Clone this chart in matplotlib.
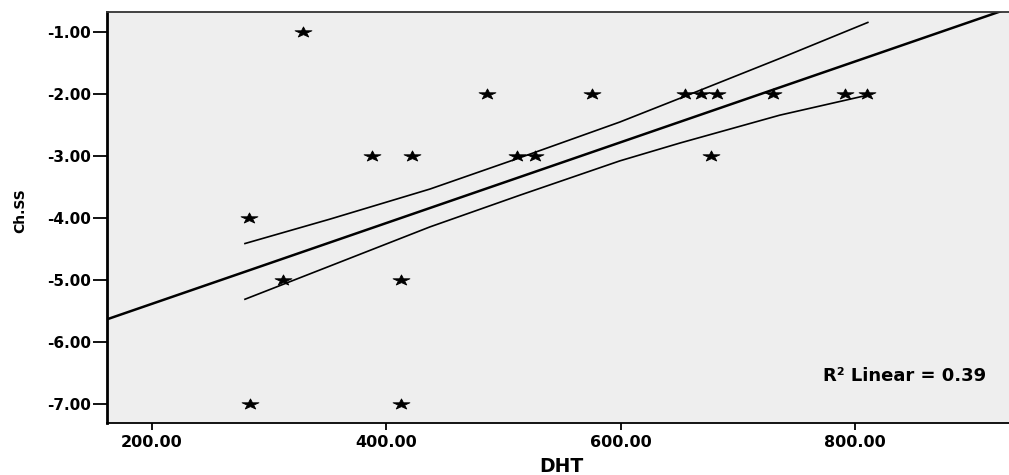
import numpy as np
import matplotlib
matplotlib.use("Agg")
import matplotlib.pyplot as plt
from matplotlib.markers import MarkerStyle
from matplotlib.transforms import Affine2D

plt.rcParams["font.family"] = ["DejaVu Sans"]
plt.rcParams["font.weight"] = "bold"

# scatter points
dht = [329, 283, 284, 312, 388, 422, 412.5, 412.5, 486, 511.5, 527, 576,
       655, 669, 682, 677, 730, 791.5, 810]
chss = [-1, -4, -7, -5, -3, -3, -5, -7, -2, -3, -3, -2,
        -2, -2, -2, -3, -2, -2, -2]

# fit line
fit_intercept = -6.681
fit_slope = 0.006507
r2_label = "R\u00b2 Linear = 0.39"

# 95% mean confidence band, read at a few x positions
ci_x = [279.4, 351.9, 437.3, 514.1, 599.4, 650.6, 736.0, 811.1]
ci_upper = [-4.408, -4.015, -3.530, -3.025, -2.450, -2.068, -1.425, -0.845]
ci_lower = [-5.306, -4.771, -4.140, -3.629, -3.076, -2.789, -2.339, -2.016]

x_ticks = [200, 400, 600, 800]
y_ticks = [-1, -2, -3, -4, -5, -6, -7]

xmin, xmax = 161.6, 931.6
ymin, ymax = -7.30, -0.677

fig = plt.figure(figsize=(10.09, 4.75), dpi=100)
ax = fig.add_axes([0.106, 0.1095, 0.894, 0.8652])
ax.set_facecolor("#eeeeee")

xl = np.array([xmin, xmax])
ax.plot(xl, fit_intercept + fit_slope * xl, color="black", lw=1.8)
ax.plot(ci_x, ci_upper, color="black", lw=1.2)
ax.plot(ci_x, ci_lower, color="black", lw=1.2)

star = MarkerStyle("*", transform=Affine2D().scale(1.6, 1.0))
ax.scatter(dht, chss, marker=star, s=64, color="black", linewidths=0.6,
           edgecolors="black", zorder=3)

ax.set_xlim(xmin, xmax)
ax.set_ylim(ymin, ymax)
ax.set_xticks(x_ticks)
ax.set_xticklabels([f"{v:.2f}" for v in x_ticks])
ax.set_yticks(y_ticks)
ax.set_yticklabels([f"{v:.2f}" for v in y_ticks])
ax.tick_params(axis="x", labelsize=11.5, width=1.3, length=5, pad=4)
ax.tick_params(axis="y", labelsize=11, width=1.3, length=10, pad=1.5)

ax.spines["left"].set_linewidth(2.0)
ax.spines["bottom"].set_linewidth(1.3)
ax.spines["top"].set_linewidth(1.3)
ax.spines["top"].set_color("#333333")
ax.spines["right"].set_visible(False)

fig.text(0.556, 1 - 467 / 475, "DHT", ha="center", va="center",
         fontsize=13.5, fontweight="bold")
fig.text(20 / 1009, 1 - 211 / 475, "Ch.SS", ha="center", va="center",
         rotation=90, fontsize=10, fontweight="bold")

ax.text(0.975, 0.114, r2_label, transform=ax.transAxes,
        ha="right", va="center", fontsize=13, fontweight="bold")

fig.savefig("out.png", dpi=100)
